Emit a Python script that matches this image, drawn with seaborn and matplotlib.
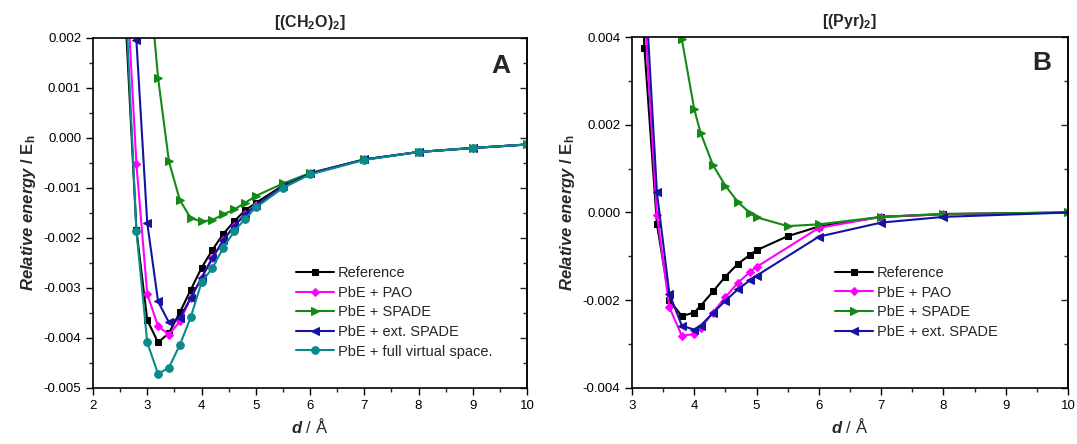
import numpy as np
import pandas as pd
import matplotlib
matplotlib.use("Agg")
import matplotlib.pyplot as plt
from matplotlib.ticker import MultipleLocator, FormatStrFormatter
import seaborn as sns

# ---------------- data ----------------
methods_a = ["Reference", "PbE + PAO", "PbE + SPADE", "PbE + ext. SPADE", "PbE + full virtual space."]
methods_b = ["Reference", "PbE + PAO", "PbE + SPADE", "PbE + ext. SPADE"]

# Panel A: [(CH2O)2]
a_ref_d = [2.6, 2.8, 3.0, 3.2, 3.4, 3.6, 3.8, 4.0, 4.2, 4.4, 4.6, 4.8, 5.0, 5.5, 6, 7, 8, 9, 10]
a_ref_e = [0.0024, -0.00184, -0.00364, -0.00409, -0.0039, -0.00349, -0.00304, -0.0026, -0.00224,
           -0.00192, -0.00167, -0.00145, -0.0013, -0.00095, -0.00071, -0.00043, -0.00028, -0.0002, -0.00013]
a_pao_d = [2.6, 2.8, 3.0, 3.2, 3.4, 3.6, 3.8, 4.0, 4.2, 4.4, 4.6, 4.8, 5.0, 5.5, 6, 7, 8, 9, 10]
a_pao_e = [0.0035, -0.00052, -0.00312, -0.00377, -0.00393, -0.00367, -0.0032, -0.0028, -0.0024,
           -0.00205, -0.00176, -0.00153, -0.00135, -0.00097, -0.00071, -0.00043, -0.00028, -0.0002, -0.00013]
a_spade_d = [3.0, 3.2, 3.4, 3.6, 3.8, 4.0, 4.2, 4.4, 4.6, 4.8, 5.0, 5.5, 6, 7, 8, 9, 10]
a_spade_e = [0.0036, 0.0012, -0.00047, -0.00124, -0.0016, -0.00167, -0.00164, -0.00153, -0.00143,
             -0.0013, -0.00116, -0.00091, -0.0007, -0.00043, -0.00028, -0.0002, -0.00013]
a_ext_d = [2.8, 3.0, 3.2, 3.4, 3.6, 3.8, 4.0, 4.2, 4.4, 4.6, 4.8, 5.0, 5.5, 6, 7, 8, 9, 10]
a_ext_e = [0.00195, -0.0017, -0.00327, -0.00369, -0.0036, -0.0032, -0.0028, -0.0024, -0.00205,
           -0.00176, -0.00153, -0.00135, -0.00097, -0.00071, -0.00043, -0.00028, -0.0002, -0.00013]
a_full_d = [2.6, 2.8, 3.0, 3.2, 3.4, 3.6, 3.8, 4.0, 4.2, 4.4, 4.6, 4.8, 5.0, 5.5, 6, 7, 8, 9, 10]
a_full_e = [0.0028, -0.00186, -0.00409, -0.00472, -0.00459, -0.00414, -0.00359, -0.00289, -0.0026,
            -0.0022, -0.00187, -0.00162, -0.00139, -0.001, -0.00073, -0.00044, -0.00028, -0.0002, -0.00013]

# Panel B: [(Pyr)2]
b_ref_d = [3.0, 3.2, 3.4, 3.6, 3.8, 4.0, 4.1, 4.3, 4.5, 4.7, 4.9, 5.0, 5.5, 6, 7, 8, 10]
b_ref_e = [0.010, 0.00374, -0.00026, -0.0020, -0.00236, -0.00228, -0.00213, -0.0018, -0.00146,
           -0.00117, -0.00096, -0.00086, -0.00054, -0.00032, -0.0001, -0.00004, 0.0]
b_pao_d = [3.2, 3.4, 3.6, 3.8, 4.0, 4.1, 4.3, 4.5, 4.7, 4.9, 5.0, 6, 7, 8, 10]
b_pao_e = [0.0046, -0.00005, -0.00216, -0.00281, -0.00277, -0.00264, -0.00228, -0.00193, -0.0016,
           -0.00135, -0.00124, -0.00035, -0.0001, -0.00004, 0.0]
b_spade_d = [3.6, 3.8, 4.0, 4.1, 4.3, 4.5, 4.7, 4.9, 5.0, 5.5, 6, 7, 8, 10]
b_spade_e = [0.0085, 0.00395, 0.00235, 0.00182, 0.00108, 0.00061, 0.00024, -0.00002, -0.00011,
             -0.00031, -0.00027, -0.0001, -0.00003, 0.0]
b_ext_d = [3.2, 3.4, 3.6, 3.8, 4.0, 4.1, 4.3, 4.5, 4.7, 4.9, 5.0, 6, 7, 8, 10]
b_ext_e = [0.0055, 0.00046, -0.00185, -0.00258, -0.00267, -0.00258, -0.00229, -0.00201, -0.00175,
           -0.00154, -0.00144, -0.00055, -0.00023, -0.0001, 0.0]

# ---------------- style ----------------
sns.set_style("ticks")
plt.rcParams["font.family"] = ["Liberation Sans", "DejaVu Sans"]
plt.rcParams["mathtext.fontset"] = "custom"
plt.rcParams["mathtext.rm"] = "Liberation Sans"
plt.rcParams["mathtext.it"] = "Liberation Sans:italic"
plt.rcParams["mathtext.bf"] = "Liberation Sans:bold"
plt.rcParams["mathtext.bfit"] = "Liberation Sans:bold:italic"

palette = {"Reference": "#000000", "PbE + PAO": "#FF00FF", "PbE + SPADE": "#138A13",
           "PbE + ext. SPADE": "#1414A0", "PbE + full virtual space.": "#0A8A8A"}
markers = {"Reference": "s", "PbE + PAO": "D", "PbE + SPADE": ">",
           "PbE + ext. SPADE": "<", "PbE + full virtual space.": "o"}
msizes = {"Reference": 5, "PbE + PAO": 4.5, "PbE + SPADE": 6,
          "PbE + ext. SPADE": 6, "PbE + full virtual space.": 5.5}


def make_df(series):
    rows = []
    for name, d, e in series:
        for di, ei in zip(d, e):
            rows.append({"d": di, "E": ei, "method": name})
    return pd.DataFrame(rows)


df_a = make_df([(methods_a[0], a_ref_d, a_ref_e), (methods_a[1], a_pao_d, a_pao_e),
                (methods_a[2], a_spade_d, a_spade_e), (methods_a[3], a_ext_d, a_ext_e),
                (methods_a[4], a_full_d, a_full_e)])
df_b = make_df([(methods_b[0], b_ref_d, b_ref_e), (methods_b[1], b_pao_d, b_pao_e),
                (methods_b[2], b_spade_d, b_spade_e), (methods_b[3], b_ext_d, b_ext_e)])

fig = plt.figure(figsize=(10.77, 4.44), dpi=100)
ax_a = fig.add_axes([93 / 1077, 1 - 388 / 444, (527 - 93) / 1077, (388 - 38) / 444])
ax_b = fig.add_axes([632 / 1077, 1 - 388 / 444, (1068 - 632) / 1077, (388 - 37) / 444])


def draw(ax, df, methods):
    for m in methods:
        sub = df[df["method"] == m]
        sns.lineplot(data=sub, x="d", y="E", ax=ax, color=palette[m], marker=markers[m],
                     markersize=msizes[m], markeredgecolor=palette[m], linewidth=1.5,
                     label=m, sort=False, estimator=None)


draw(ax_a, df_a, methods_a)
draw(ax_b, df_b, methods_b)


def style_axes(ax, xlim, ylim, ymaj, ymin):
    ax.set_xlim(*xlim)
    ax.set_ylim(*ylim)
    ax.xaxis.set_major_locator(MultipleLocator(1))
    ax.xaxis.set_minor_locator(MultipleLocator(0.5))
    ax.yaxis.set_major_locator(MultipleLocator(ymaj))
    ax.yaxis.set_minor_locator(MultipleLocator(ymin))
    ax.yaxis.set_major_formatter(FormatStrFormatter("%.3f"))
    ax.tick_params(which="major", direction="out", length=5, width=1, labelsize=9.5, colors="black")
    ax.tick_params(which="minor", direction="out", length=3, width=1)
    for s in ax.spines.values():
        s.set_linewidth(1.2)
        s.set_color("black")
    sec = ax.secondary_yaxis("right")
    sec.yaxis.set_major_locator(MultipleLocator(ymaj))
    sec.yaxis.set_minor_locator(MultipleLocator(ymin))
    sec.tick_params(which="major", direction="in", length=5, width=1, labelright=False)
    sec.tick_params(which="minor", direction="in", length=3, width=1, labelright=False)
    sec.spines["right"].set_linewidth(1.2)
    ax.set_xlabel(r"$\mathbfit{d}$ / Å", fontsize=12)
    ax.set_ylabel(r"$\mathbfit{Relative\ energy}$ / E$_\mathbf{h}$", fontsize=12, fontweight="bold")


style_axes(ax_a, (2, 10), (-0.005, 0.002), 0.001, 0.0005)
style_axes(ax_b, (3, 10), (-0.004, 0.004), 0.002, 0.001)
ax_b.legend(loc="upper left", frameon=False, fontsize=10.5, handlelength=2.6,
            labelspacing=0.38, handletextpad=0.3, bbox_to_anchor=(0.435, 0.385))
ax_a.legend(loc="upper left", frameon=False, fontsize=10.5, handlelength=2.6,
            labelspacing=0.38, handletextpad=0.3, bbox_to_anchor=(0.437, 0.385))

ax_a.set_title(r"[(CH$_\mathbf{2}$O)$_\mathbf{2}$]", fontsize=11.5, fontweight="bold", pad=8)
ax_b.set_title(r"[(Pyr)$_\mathbf{2}$]", fontsize=11.5, fontweight="bold", pad=8)
ax_a.text(0.94, 0.92, "A", transform=ax_a.transAxes, fontsize=19, fontweight="bold",
          ha="center", va="center")
ax_b.text(0.94, 0.925, "B", transform=ax_b.transAxes, fontsize=19, fontweight="bold",
          ha="center", va="center")

fig.savefig("out.png", dpi=100)
